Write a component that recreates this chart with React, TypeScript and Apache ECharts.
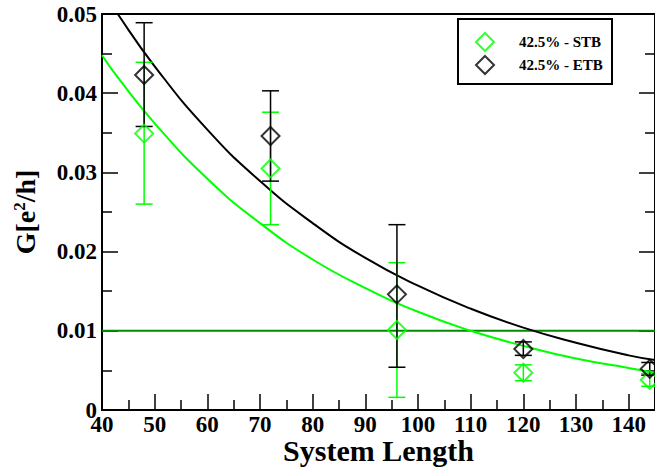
import React, { useEffect, useRef } from "react";
import * as echarts from "echarts";

// Measured points
const systemLength = [48, 72, 96, 120, 144];
const stbG = [0.0349, 0.0305, 0.0101, 0.0047, 0.0038];
const stbLow = [0.026, 0.0234, 0.0016, 0.0037, 0.003];
const stbHigh = [0.0439, 0.0376, 0.0186, 0.0057, 0.0046];
const etbG = [0.0423, 0.0346, 0.0146, 0.0077, 0.0052];
const etbLow = [0.0358, 0.0289, 0.0054, 0.0069, 0.0044];
const etbHigh = [0.0489, 0.0403, 0.0234, 0.0086, 0.006];

// Fit curves
const fitX = [40, 43, 50, 60, 70, 80, 90, 100, 110, 120, 130, 140, 145];
const stbFit = [0.0448, 0.042, 0.0362, 0.0292, 0.0236, 0.019, 0.0154, 0.0124, 0.01, 0.0081, 0.0065, 0.0053, 0.0047];
const etbFit = [0.0532, 0.05, 0.0434, 0.0354, 0.0289, 0.0236, 0.0192, 0.0157, 0.0128, 0.0104, 0.0085, 0.0069, 0.0063];

// Reference level
const thresholdX = [40, 145];
const thresholdG = 0.01;

const seriesNames = ["42.5% - STB", "42.5% - ETB"];

const GREEN = "#00ff00";
const DARKGREEN = "#008b00";
const BLACK = "#000000";
const FONT = "'Liberation Serif', 'Times New Roman', serif";

function errorBarSeries(color: string, lows: number[], highs: number[]) {
  return {
    type: "custom",
    silent: true,
    data: systemLength.map((x, i) => [x, lows[i], highs[i]]),
    encode: { x: 0, y: [1, 2] },
    renderItem: (params: any, api: any) => {
      const x = api.value(0);
      const lo = api.coord([x, api.value(1)]);
      const hi = api.coord([x, api.value(2)]);
      const w = 8.5;
      const style = { stroke: color, lineWidth: 1.5 };
      return {
        type: "group",
        children: [
          { type: "line", shape: { x1: lo[0], y1: lo[1], x2: hi[0], y2: hi[1] }, style },
          { type: "line", shape: { x1: lo[0] - w, y1: lo[1], x2: lo[0] + w, y2: lo[1] }, style },
          { type: "line", shape: { x1: hi[0] - w, y1: hi[1], x2: hi[0] + w, y2: hi[1] }, style },
        ],
      };
    },
    z: 3,
  };
}

export default function App() {
  const ref = useRef<HTMLDivElement>(null);
  useEffect(() => {
    if (!ref.current) return;
    document.body.style.margin = "0";
    const chart = echarts.init(ref.current, undefined, { renderer: "svg", width: 655, height: 470 });
    const axisCommon = {
      axisLine: { show: true, onZero: false, lineStyle: { color: BLACK, width: 2 } },
      axisTick: { show: true, inside: true, length: 16, lineStyle: { color: BLACK, width: 1.5 } },
      minorTick: { show: true, splitNumber: 2, length: 10, lineStyle: { color: BLACK, width: 1.5 } },
      splitLine: { show: false },
    };
    const labelStyle = { color: BLACK, fontFamily: FONT, fontWeight: "bold", fontSize: 23 };
    chart.setOption({
      animation: false,
      backgroundColor: "#ffffff",
      grid: { left: 102, right: 0, top: 14, bottom: 60, containLabel: false, outerBoundsMode: "none" },
      graphic: [
        {
          type: "rect",
          shape: { x: 458, y: 19, width: 154, height: 65 },
          style: { fill: "#ffffff", stroke: BLACK, lineWidth: 2 },
          z: 10,
        },
      ],
      legend: {
        data: seriesNames,
        orient: "vertical",
        left: 475,
        top: 32,
        padding: 0,
        itemGap: 3,
        itemWidth: 18,
        itemHeight: 18,
        icon: "diamond",
        z: 20,
        textStyle: { color: BLACK, fontFamily: FONT, fontWeight: "bold", fontSize: 15, padding: [0, 0, 0, 20] },
      },
      xAxis: [
        {
          type: "value",
          min: 40,
          max: 145,
          interval: 10,
          ...axisCommon,
          axisLabel: { ...labelStyle, margin: 4, lineHeight: 20, showMaxLabel: false },
          name: "System Length",
          nameLocation: "middle",
          nameGap: 27,
          nameMoveOverlap: false,
          nameTextStyle: { color: BLACK, fontFamily: FONT, fontWeight: "bold", fontSize: 30, lineHeight: 26 },
        },
        {
          type: "value",
          position: "top",
          min: 40,
          max: 145,
          interval: 10,
          axisLine: { show: true, onZero: false, lineStyle: { color: BLACK, width: 2 } },
          axisTick: { show: false },
          splitLine: { show: false },
          axisLabel: { show: false },
        },
      ],
      yAxis: [
        {
          type: "value",
          min: 0,
          max: 0.05,
          interval: 0.01,
          ...axisCommon,
          axisLabel: { ...labelStyle, margin: 5, lineHeight: 18 },
          name: "{a|G[e}{s|2}{a|/h]}",
          nameLocation: "middle",
          nameGap: 62,
          nameTextStyle: {
            rich: {
              a: { color: BLACK, fontFamily: FONT, fontWeight: "bold", fontSize: 28 },
              s: { color: BLACK, fontFamily: FONT, fontWeight: "bold", fontSize: 17, verticalAlign: "top", padding: [0, 0, 12, 0] },
            },
          },
        },
        {
          type: "value",
          position: "right",
          min: 0,
          max: 0.05,
          interval: 0.01,
          ...axisCommon,
          axisLabel: { show: false },
        },
      ],
      series: [
        {
          type: "line",
          name: "threshold",
          data: thresholdX.map((x) => [x, thresholdG]),
          symbol: "none",
          lineStyle: { color: DARKGREEN, width: 2 },
          z: 1,
          silent: true,
        },
        {
          type: "line",
          name: "stbFit",
          data: fitX.map((x, i) => [x, stbFit[i]]),
          symbol: "none",
          smooth: true,
          lineStyle: { color: GREEN, width: 2 },
          z: 2,
          silent: true,
        },
        {
          type: "line",
          name: "etbFit",
          data: fitX.map((x, i) => [x, etbFit[i]]),
          symbol: "none",
          smooth: true,
          lineStyle: { color: BLACK, width: 2 },
          z: 2,
          silent: true,
        },
        errorBarSeries(GREEN, stbLow, stbHigh),
        {
          type: "scatter",
          name: seriesNames[0],
          data: systemLength.map((x, i) => [x, stbG[i]]),
          symbol: "diamond",
          symbolSize: 18,
          itemStyle: { color: "rgba(255,255,255,0)", borderColor: GREEN, borderWidth: 2 },
          z: 4,
        },
        errorBarSeries(BLACK, etbLow, etbHigh),
        {
          type: "scatter",
          name: seriesNames[1],
          data: systemLength.map((x, i) => [x, etbG[i]]),
          symbol: "diamond",
          symbolSize: 18,
          itemStyle: { color: "rgba(255,255,255,0)", borderColor: BLACK, borderWidth: 2 },
          z: 5,
        },
      ],
    });
    return () => chart.dispose();
  }, []);
  return (
    <div
      ref={ref}
      style={{ position: "fixed", left: 0, top: 0, width: 655, height: 470, background: "#fff" }}
    />
  );
}
